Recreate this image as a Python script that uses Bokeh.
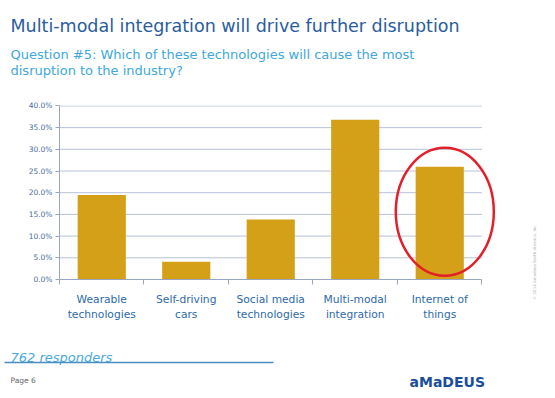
import math
from bokeh.plotting import figure
from bokeh.layouts import column, row
from bokeh.models import Range1d, FixedTicker, NumeralTickFormatter, ColumnDataSource
from bokeh.core.properties import value
from bokeh.embed import file_html
from bokeh.resources import INLINE

# ---- data ----
categories = ["Wearable\ntechnologies", "Self-driving\ncars", "Social media\ntechnologies",
              "Multi-modal\nintegration", "Internet of\nthings"]
values = [0.195, 0.041, 0.138, 0.368, 0.260]
y_ticks = [0.0, 0.05, 0.10, 0.15, 0.20, 0.25, 0.30, 0.35, 0.40]
highlight_index = 4

title_text = "Multi-modal integration will drive further disruption"
subtitle_lines = ["Question #5: Which of these technologies will cause the most",
                  "disruption to the industry?"]
responders_text = "762 responders"
page_text = "Page 6"
logo_text = "aMaDEUS"
copyright_text = "\u00a9 2014 Amadeus North America, Inc."

FONT = "DejaVu Sans"
BAR_COLOR = "#d4a017"
GRID_COLOR = "#b7c2d8"
AXIS_COLOR = "#98a6c2"

W, H = 555, 398
HEADER_H = 88
FOOTER_TOP = 330
SIDE_W = 40


def text_fig(x0, x1, y0, y1):
    """A bare figure whose data coordinates are page pixels (y pointing down)."""
    f = figure(width=x1 - x0, height=y1 - y0, output_backend="svg",
               toolbar_location=None, x_axis_type=None, y_axis_type=None,
               x_range=Range1d(x0, x1), y_range=Range1d(y1, y0),
               min_border=0, min_border_left=0, min_border_right=0,
               min_border_top=0, min_border_bottom=0)
    f.outline_line_color = None
    f.xgrid.visible = False
    f.ygrid.visible = False
    f.background_fill_color = "white"
    f.border_fill_color = "white"
    return f


def put_text(f, text, x, y, size, color, style="normal", align="left",
             baseline="alphabetic", angle=0.0):
    f.text(x=[x], y=[y], text=[text], text_font=value(FONT), text_font_size=size,
           text_color=color, text_font_style=style, text_align=align,
           text_baseline=baseline, angle=angle)


# ---- header ----
header = text_fig(0, W, 0, HEADER_H)
put_text(header, title_text, 10, 25.5, "17.5px", "#2b5c9c")
put_text(header, subtitle_lines[0], 10, 54, "13px", "#40a8dc")
put_text(header, subtitle_lines[1], 10, 70, "13px", "#40a8dc")

# ---- chart ----
n = len(categories)
xs = [i + 0.5 for i in range(n)]
mid_h = FOOTER_TOP - HEADER_H
chart_w = W - SIDE_W
p = figure(width=chart_w, height=mid_h, output_backend="svg", toolbar_location=None,
           x_range=Range1d(0, n + 0.16), y_range=Range1d(0, 0.401),
           min_border_left=59, min_border_right=chart_w - 59 - 436,
           min_border_top=17, min_border_bottom=mid_h - 17 - 174)
p.outline_line_color = None
p.background_fill_color = "white"
p.border_fill_color = "white"
p.xgrid.visible = False
p.ygrid.visible = False

grid_src = ColumnDataSource(dict(y=y_ticks[1:], x0=[0] * (len(y_ticks) - 1),
                                 x1=[n] * (len(y_ticks) - 1)))
p.segment(x0="x0", x1="x1", y0="y", y1="y", source=grid_src,
          line_color=GRID_COLOR, line_width=1)

src = ColumnDataSource(dict(x=xs, top=values))
p.vbar(x="x", top="top", width=0.57, source=src, fill_color=BAR_COLOR,
       line_color=None)

p.ellipse(x=[xs[highlight_index] + 0.06], y=[0.156], width=1.16, height=0.295,
          fill_color=None, line_color="#e3202a", line_width=2.5)

xa = p.xaxis[0]
xa.ticker = FixedTicker(ticks=xs, minor_ticks=list(range(n + 1)))
xa.major_label_overrides = {x: c for x, c in zip(xs, categories)}
xa.bounds = (0, n)
xa.axis_line_color = AXIS_COLOR
xa.major_tick_line_color = None
xa.major_tick_out = 0
xa.major_tick_in = 0
xa.minor_tick_line_color = AXIS_COLOR
xa.minor_tick_out = 5
xa.minor_tick_in = 0
xa.major_label_standoff = 8
xa.major_label_text_font = FONT
xa.major_label_text_font_size = "10.7px"
xa.major_label_text_color = "#2e6aa8"

ya = p.yaxis[0]
ya.ticker = FixedTicker(ticks=y_ticks)
ya.formatter = NumeralTickFormatter(format="0.0%")
ya.bounds = (0, 0.4)
ya.axis_line_color = AXIS_COLOR
ya.major_tick_line_color = AXIS_COLOR
ya.major_tick_out = 4
ya.major_tick_in = 0
ya.minor_tick_line_color = None
ya.major_label_standoff = 3
ya.major_label_text_font = FONT
ya.major_label_text_font_size = "7.5px"
ya.major_label_text_color = "#4a6d9c"

# ---- right strip (copyright); nested so its frame is not aligned to the chart's ----
side = text_fig(chart_w, W, HEADER_H, FOOTER_TOP)
put_text(side, copyright_text, 534, 261.5, "4px", "#b0b0b0", align="center",
         baseline="middle", angle=math.pi / 2)

# ---- footer ----
footer = text_fig(0, W, FOOTER_TOP, H)
put_text(footer, responders_text, 10, 356.5, "13px", "#4aa9dc", style="italic")
footer.segment(x0=[4], x1=[273], y0=[362], y1=[362], line_color="#4a8fc0",
               line_width=1.5)
put_text(footer, page_text, 10, 380, "7.5px", "#666666")
put_text(footer, logo_text, 409, 381, "14px", "#1a4e9b", style="bold")

layout = column(header, row(p, column(side)), footer)
open("out.html", "w").write(file_html(layout, INLINE))
